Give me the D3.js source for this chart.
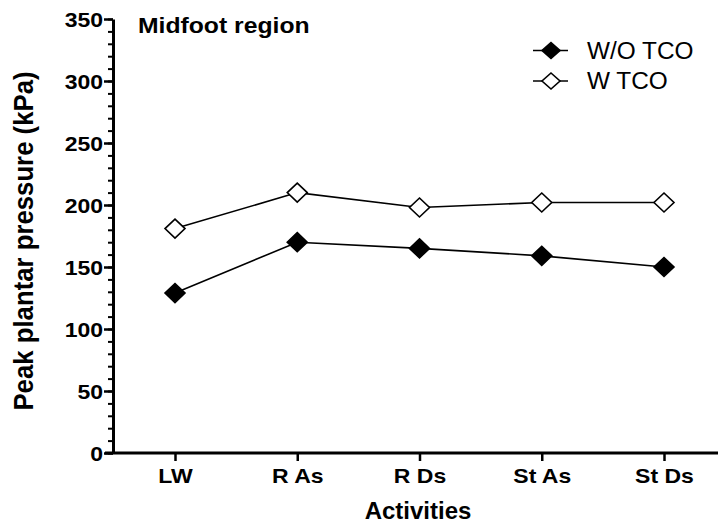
<!DOCTYPE html>
<html>
<head>
<meta charset="utf-8">
<title>Midfoot region</title>
<script src="https://cdn.jsdelivr.net/npm/d3@7"></script>
<style>
  body { margin: 0; background: #fff; }
  svg { display: block; font-family: Arial, "Liberation Sans", sans-serif; }
</style>
</head>
<body>
<svg id="chart" width="718" height="524"></svg>
<script>
// data
var activities = ["LW", "R As", "R Ds", "St As", "St Ds"];
var withoutTCO = [129, 170, 165, 159, 150];
var withTCO = [181, 210, 198, 202, 202];
var seriesNames = ["W/O TCO", "W TCO"];
var yTicks = [0, 50, 100, 150, 200, 250, 300, 350];

var svg = d3.select("#chart");
var axisX0 = 113, axisY0 = 453;
var stretch = 1.18; // the original picture is a bit wide

var x = d3.scalePoint().domain(activities).range([175, 664]);
var y = d3.scaleLinear().domain([0, 350]).range([453, 19]);

// minor y ticks every 10
var minor = svg.append("g")
  .attr("transform", "translate(" + axisX0 + ",0)")
  .call(d3.axisLeft(y).tickValues(d3.range(0, 351, 10)).tickSize(5).tickFormat(""));
minor.select(".domain").remove();
minor.selectAll("line").attr("stroke-width", 2);

// major y ticks + labels
var yAxis = svg.append("g")
  .attr("transform", "translate(" + axisX0 + ",0)")
  .call(d3.axisLeft(y).tickValues(yTicks).tickSize(9).tickSizeOuter(0));
yAxis.select(".domain").attr("stroke-width", 3);
yAxis.selectAll("line").attr("stroke-width", 2.5);
yAxis.selectAll("text")
  .attr("x", 0).attr("dy", "0.36em")
  .attr("transform", "translate(-10,0) scale(" + stretch + ",1)")
  .style("font-size", "19.5px").style("font-weight", "bold").attr("fill", "#000");

// x axis
var xAxis = svg.append("g")
  .attr("transform", "translate(0," + axisY0 + ")")
  .call(d3.axisBottom(x).tickSize(8).tickSizeOuter(0));
xAxis.select(".domain").attr("d", "M" + (axisX0 - 8) + ",0H718").attr("stroke-width", 3);
xAxis.selectAll("line").attr("stroke-width", 2.5);
xAxis.selectAll("text")
  .attr("y", 0).attr("dy", null)
  .attr("transform", "translate(0,30) scale(" + stretch + ",1)")
  .style("font-size", "19.5px").style("font-weight", "bold").attr("fill", "#000");

// axis titles
svg.append("text")
  .attr("x", 418).attr("y", 519)
  .attr("text-anchor", "middle")
  .style("font-size", "24px").style("font-weight", "bold")
  .text("Activities");

svg.append("text")
  .attr("transform", "translate(33,241) rotate(-90) scale(1.03,1.08)")
  .attr("text-anchor", "middle")
  .style("font-size", "25px").style("font-weight", "bold")
  .text("Peak plantar pressure (kPa)");

// panel title
svg.append("text")
  .attr("transform", "translate(138,33) scale(1.15,1)")
  .style("font-size", "21.5px").style("font-weight", "bold")
  .text("Midfoot region");

// series
var diamond = "M0,-9.5L10,0L0,9.5L-10,0Z";
var line = d3.line().x(function (d, i) { return x(activities[i]); }).y(function (d) { return y(d); });
var series = [
  { name: seriesNames[0], values: withoutTCO, fill: "#000" },
  { name: seriesNames[1], values: withTCO, fill: "#fff" }
];

series.forEach(function (s) {
  svg.append("path")
    .datum(s.values)
    .attr("d", line)
    .attr("fill", "none")
    .attr("stroke", "#000")
    .attr("stroke-width", 1.6);

  svg.selectAll(null)
    .data(s.values)
    .enter()
    .append("path")
    .attr("d", diamond)
    .attr("transform", function (d, i) { return "translate(" + x(activities[i]) + "," + y(d) + ")"; })
    .attr("fill", s.fill)
    .attr("stroke", "#000")
    .attr("stroke-width", 1.6);
});

// legend
var legend = svg.append("g");
series.forEach(function (s, i) {
  var cy = 50.5 + i * 30.5;
  legend.append("line")
    .attr("x1", 533).attr("x2", 568).attr("y1", cy).attr("y2", cy)
    .attr("stroke", "#000").attr("stroke-width", 1.6);
  legend.append("path")
    .attr("d", "M0,-8L9,0L0,8L-9,0Z")
    .attr("transform", "translate(551," + cy + ")")
    .attr("fill", s.fill).attr("stroke", "#000").attr("stroke-width", 1.6);
  legend.append("text")
    .attr("transform", "translate(587," + (cy + 8) + ") scale(1.06,1)")
    .style("font-size", "23px")
    .text(s.name);
});
</script>
</body>
</html>
